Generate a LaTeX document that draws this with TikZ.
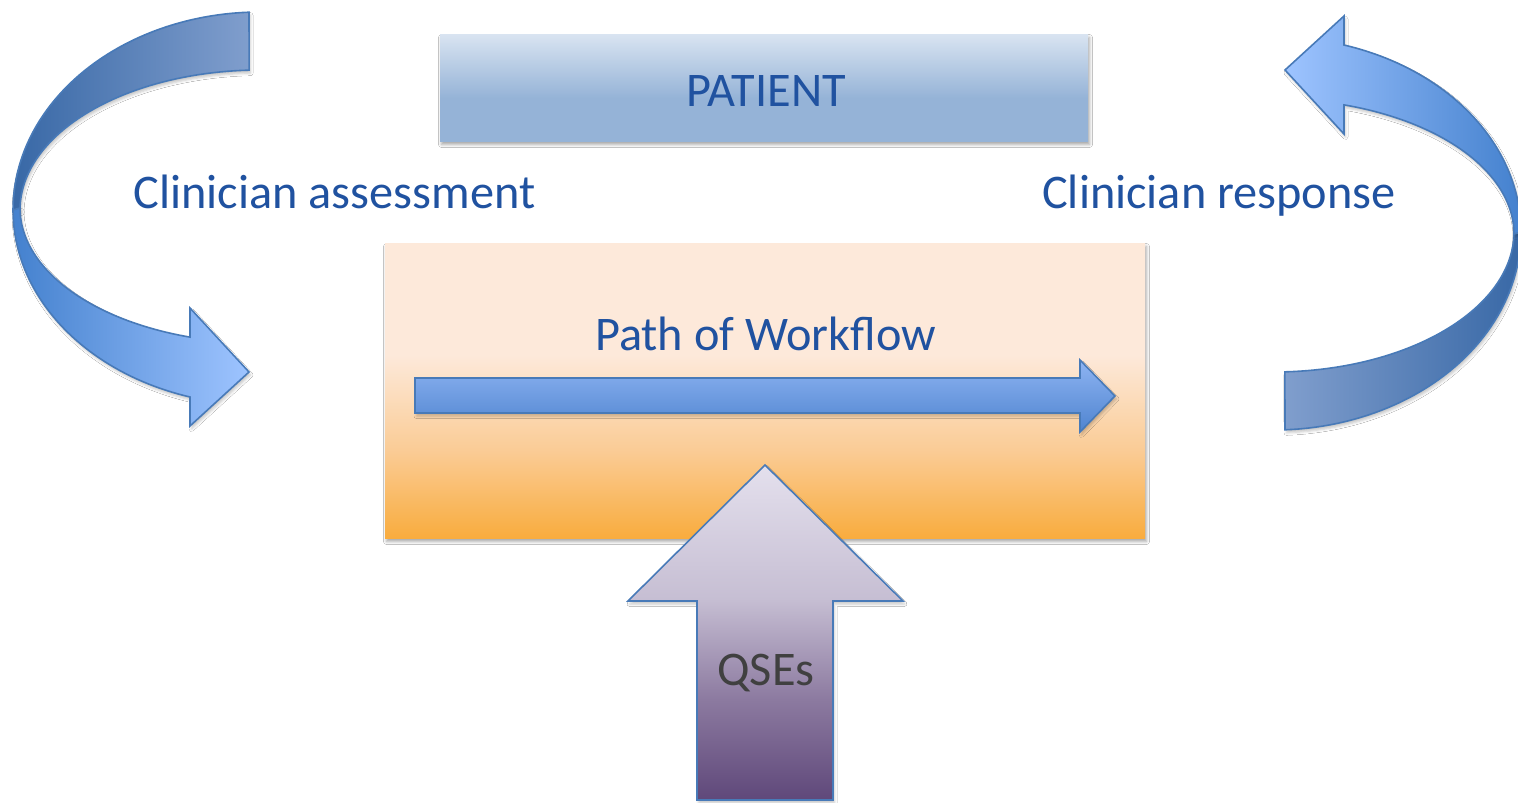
\documentclass[tikz,border=0pt]{standalone}
\usepackage{fontspec}
\setmainfont{Carlito}
\usetikzlibrary{shadows.blur}

% text and outline colours
\definecolor{txtblue}{RGB}{32,82,160}
\definecolor{txtgray}{RGB}{64,64,64}
\definecolor{edgeblue}{RGB}{72,122,184}
% PATIENT box
\definecolor{ptop}{RGB}{217,228,241}
\definecolor{pbot}{RGB}{149,179,215}
% workflow box
\definecolor{otop}{RGB}{253,233,218}
\definecolor{omid}{RGB}{250,204,150}
\definecolor{obot}{RGB}{249,172,62}
% workflow arrow
\definecolor{wtop}{RGB}{142,180,243}
\definecolor{wbot}{RGB}{79,132,207}
% QSEs arrow
\definecolor{qtop}{RGB}{228,224,237}
\definecolor{qmid}{RGB}{198,190,211}
\definecolor{qlow}{RGB}{140,122,160}
\definecolor{qbot}{RGB}{95,72,122}
% curved arrows: back band and front band
\definecolor{backdark}{RGB}{56,104,166}
\definecolor{backlight}{RGB}{128,158,205}
\definecolor{frontdark}{RGB}{68,129,206}
\definecolor{frontlight}{RGB}{158,196,255}

% vertical shadings: the path spans 25bp (bottom) to 75bp (top)
\pgfdeclareverticalshading{patientshade}{100bp}{color(0bp)=(pbot); color(45bp)=(pbot); color(75bp)=(ptop); color(100bp)=(ptop)}
\pgfdeclareverticalshading{workshade}{100bp}{color(0bp)=(obot); color(25bp)=(obot); color(40bp)=(omid); color(56bp)=(otop); color(100bp)=(otop)}
\pgfdeclareverticalshading{qseshade}{100bp}{color(0bp)=(qbot); color(25bp)=(qbot); color(40bp)=(qlow); color(55bp)=(qmid); color(75bp)=(qtop); color(100bp)=(qtop)}

\tikzset{
  lbl/.style={inner sep=0pt, anchor=base, font=\fontsize{48.3}{58}\selectfont},
  softshadow/.style={blur shadow={shadow xshift=1.5pt, shadow yshift=-3.5pt,
      shadow blur radius=3pt, shadow opacity=35}},
  faintshadow/.style={blur shadow={shadow xshift=1.5pt, shadow yshift=-3pt,
      shadow blur radius=2.5pt, shadow opacity=22}},
  outline/.style={draw=edgeblue, line width=1.6pt, line join=miter},
  box/.style={rectangle, inner sep=0pt, softshadow},
}

\begin{document}
\begin{tikzpicture}[x=1pt, y=-1pt]
\useasboundingbox (0,0) rectangle (1518,803);
\fill[white] (0,0) rectangle (1518,803);

% ---- boxes ----
\node[box, shading=patientshade, minimum width=648pt, minimum height=107pt]
  (patientbox) at (764,87.5) {};
\node[box, shading=workshade, minimum width=760pt, minimum height=295pt]
  (workbox) at (765,390.5) {};

% ---- left curved arrow (assessment) ----
% back band
\path[outline, faintshadow, left color=backdark, right color=backlight]
  plot[domain=92.55:180, samples=50] ({260+247*cos(\x)}, {210-198*sin(\x)})
  -- plot[domain=180:92.6, samples=50] ({260+240*cos(\x)}, {210-140*sin(\x)})
  -- cycle;
% front band with head
\path[outline, faintshadow, left color=frontdark, right color=frontlight]
  plot[domain=180:253.54, samples=50] ({260+247*cos(\x)}, {210-195*sin(\x)})
  -- (190,426) -- (249,372) -- (190,308) -- (190,337)
  -- plot[domain=253.04:180, samples=50] ({260+240*cos(\x)}, {208-135*sin(\x)})
  -- cycle;

% ---- right curved arrow (response) ----
% back band
\path[outline, faintshadow, left color=backlight, right color=backdark]
  plot[domain=272.55:360, samples=50] ({1274+247*cos(\x)}, {232-198*sin(\x)})
  -- plot[domain=360:272.6, samples=50] ({1274+240*cos(\x)}, {232-140*sin(\x)})
  -- cycle;
% front band with head
\path[outline, faintshadow, left color=frontlight, right color=frontdark]
  plot[domain=0:73.54, samples=50] ({1274+247*cos(\x)}, {232-195*sin(\x)})
  -- (1344,16) -- (1285,70) -- (1344,134) -- (1344,105)
  -- plot[domain=73.04:0, samples=50] ({1274+240*cos(\x)}, {234-135*sin(\x)})
  -- cycle;

% ---- workflow arrow ----
\path[outline, faintshadow, top color=wtop, bottom color=wbot]
  (415,378) -- (1080,378) -- (1080,360) -- (1115,396) -- (1080,432)
  -- (1080,413) -- (415,413) -- cycle;

% ---- QSEs arrow ----
\path[outline, faintshadow, shading=qseshade]
  (697,800) -- (697,601) -- (628,601) -- (765,465) -- (903,601)
  -- (833,601) -- (833,800) -- cycle;

% ---- labels ----
\node[lbl, text=txtblue] (patient) at (766,106) {PATIENT};
\node[lbl, text=txtblue] (assess) at (334.5,208) {Clinician assessment};
\node[lbl, text=txtblue] (respond) at (1219,208) {Clinician response};
\node[lbl, text=txtblue] (workflow) at (765.5,350) {Path of Workflow};
\node[lbl, text=txtgray] (qses) at (766,685) {QSEs};
\end{tikzpicture}
\end{document}
